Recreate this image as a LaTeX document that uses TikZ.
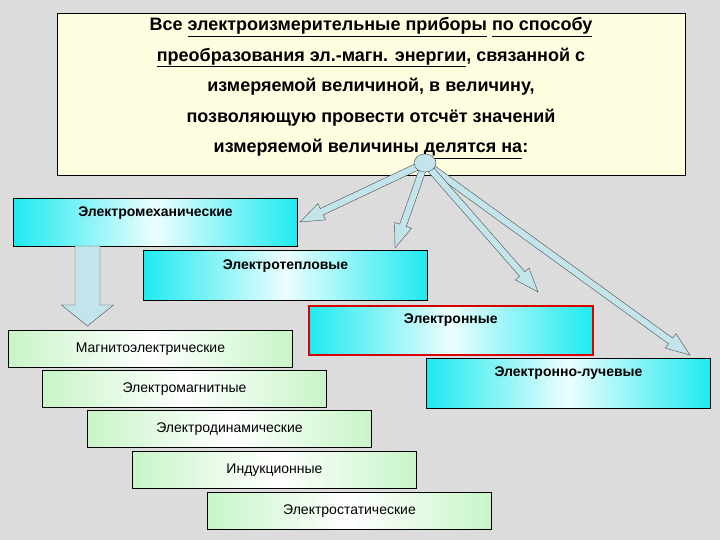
\documentclass[tikz,border=0pt]{standalone}
\usepackage{fontspec}
\setmainfont{Liberation Sans}
\usetikzlibrary{calc,shapes.geometric}
\definecolor{bg}{HTML}{DCDCDC}
\definecolor{ylw}{HTML}{FFFDE0}
\definecolor{cy}{HTML}{1EEAF0}
\definecolor{gr}{HTML}{C8F5C8}
\definecolor{arr}{HTML}{C4E4EC}
\tikzset{
 cybox/.style={draw=black,line width=1pt,left color=cy,right color=cy,middle color=cy!8,minimum height=48pt,minimum width=284pt,anchor=north west,inner sep=0pt},
 grbox/.style={draw=black,line width=1pt,left color=gr,right color=gr,middle color=white,minimum height=37pt,minimum width=284pt,anchor=north west,inner sep=0pt},
 lbl/.style={font=\fontsize{14}{16}\selectfont\bfseries},
 glbl/.style={font=\fontsize{14}{16}\selectfont}
}
\newcommand\fatarrow[5]{% from, to, halfwidth, headhalfwidth, headlength
 \filldraw[fill=arr,draw=black!70,line width=0.4pt]
  ($(#1)!#3!90:(#2)$) -- ($($(#2)!#5!(#1)$)!#3!-90:(#1)$) -- ($($(#2)!#5!(#1)$)!#4!-90:(#1)$) -- (#2)
  -- ($($(#2)!#5!(#1)$)!#4!90:(#1)$) -- ($($(#2)!#5!(#1)$)!#3!90:(#1)$) -- ($(#1)!#3!-90:(#2)$) -- cycle;}
\begin{document}
\begin{tikzpicture}[x=1pt,y=-1pt]
\fill[bg] (0,0) rectangle (720,540);
\useasboundingbox (0,0) rectangle (720,540);
\node[draw=black,line width=1pt,fill=ylw,minimum width=628pt,minimum height=162pt,anchor=north west,inner sep=0pt] (top) at (57,13) {};
\node[align=center,font=\fontsize{18}{30.5}\selectfont\bfseries,anchor=north] (toptext) at (371,14) {Все \underline{электроизмерительные приборы} \underline{по способу}\\
\underline{преобразования эл.-магн. энергии}, связанной с\\
измеряемой величиной, в величину,\\
позволяющую провести отсчёт значений\\
измеряемой величины \underline{делятся на}:};
% boxes
\node[cybox] (em) at (13,198) {};
\node[lbl,anchor=north] at ($(em.north)+(0,5)$) {Электромеханические};
\node[cybox,minimum height=50pt] (et) at (143,250) {};
\node[lbl,anchor=north] at ($(et.north)+(0,6)$) {Электротепловые};
\node[cybox,draw=red!85!black,line width=1.6pt,minimum height=49pt] (en) at (308,305) {};
\node[lbl,anchor=north] at ($(en.north)+(0,5)$) {Электронные};
\node[cybox,minimum height=50pt] (el) at (426,358) {};
\node[lbl,anchor=north] at ($(el.north)+(0,5)$) {Электронно-лучевые};
\node[grbox] (mg) at (8,330) {}; \node[glbl] at (mg.center) {Магнитоэлектрические};
\node[grbox] (ema) at (42,370) {}; \node[glbl] at (ema.center) {Электромагнитные};
\node[grbox] (ed) at (87,410) {}; \node[glbl] at (ed.center) {Электродинамические};
\node[grbox] (ind) at (132,451) {}; \node[glbl] at (ind.center) {Индукционные};
\node[grbox] (es) at (207,492) {}; \node[glbl] at (es.center) {Электростатические};
% big down arrow
\coordinate (ba) at (87.5,246); \coordinate (bt) at (87.5,326);
\fatarrow{ba}{bt}{12.5pt}{26pt}{21pt}
% hub
\coordinate (hc) at (425,163);
\coordinate (t1) at (300,222); \coordinate (t2) at (395,248);
\coordinate (t3) at (538,292); \coordinate (t4) at (690,355);
\fatarrow{hc}{t1}{3.5pt}{9pt}{24pt}
\fatarrow{hc}{t4}{3.5pt}{9pt}{24pt}
\fatarrow{hc}{t3}{3.5pt}{9pt}{24pt}
\fatarrow{hc}{t2}{3.5pt}{9pt}{24pt}
\node[ellipse,draw=black!70,fill=arr,minimum width=22pt,minimum height=18pt,inner sep=0pt] (hub) at (hc) {};
\end{tikzpicture}
\end{document}
